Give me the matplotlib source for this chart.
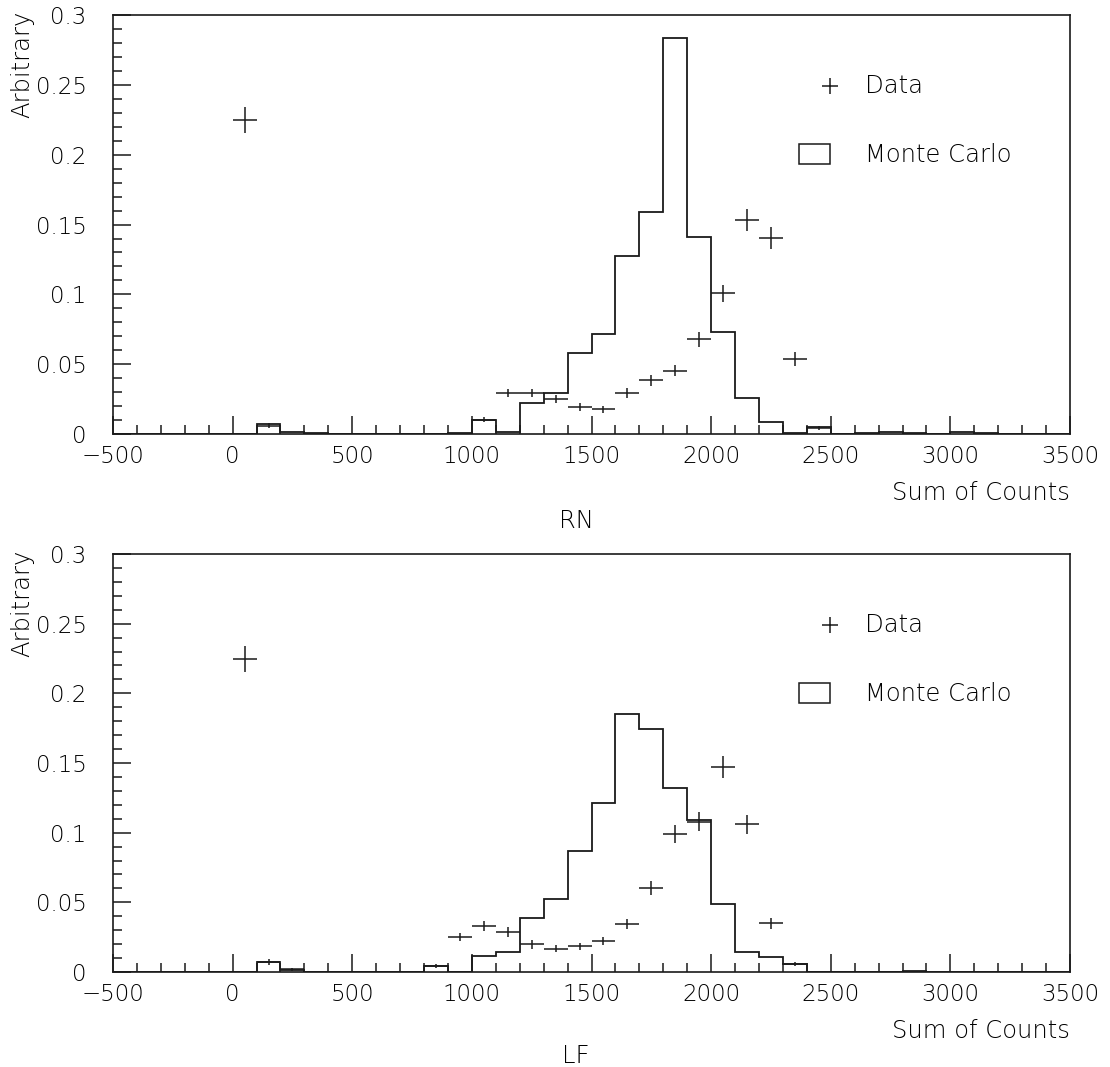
import matplotlib
matplotlib.use("Agg")
import matplotlib.pyplot as plt
import numpy as np
from matplotlib.patches import Rectangle
from matplotlib.ticker import MultipleLocator, FixedLocator

# 100-count bins from -500 to 3500
edges = np.arange(-500, 3501, 100)

# Monte Carlo histograms (40 bins)
mc_rn = [0, 0, 0, 0, 0, 0, 0.0069, 0.0012, 0.0008, 0,
         0, 0, 0, 0, 0.0008, 0.0103, 0.0012, 0.0224, 0.0291, 0.058,
         0.0714, 0.1277, 0.1592, 0.2838, 0.1408, 0.0733, 0.026, 0.0084, 0.001, 0.005,
         0, 0.0005, 0.0012, 0.0005, 0, 0.0012, 0.0005, 0, 0, 0]
mc_lf = [0, 0, 0, 0, 0, 0, 0.0073, 0.0015, 0, 0,
         0, 0, 0, 0.0045, 0, 0.0113, 0.0145, 0.039, 0.0525, 0.0868,
         0.121, 0.1855, 0.1743, 0.132, 0.1088, 0.0488, 0.0145, 0.0105, 0.0058, 0,
         0, 0, 0, 0.0008, 0, 0, 0, 0, 0, 0]

# measured data points (bin centre, value, error)
rn_x = [50, 150, 1050, 1150, 1250, 1350, 1450, 1550, 1650, 1750, 1850,
        1950, 2050, 2150, 2250, 2350, 2450]
rn_y = [0.2248, 0.006, 0.0103, 0.0296, 0.0296, 0.0253, 0.0193, 0.0177, 0.0291,
        0.0384, 0.0453, 0.068, 0.1007, 0.1535, 0.1401, 0.0537, 0.0045]
rn_err = [0.0095, 0.002, 0.002, 0.003, 0.003, 0.003, 0.0026, 0.0026, 0.0036,
          0.004, 0.004, 0.0054, 0.006, 0.0078, 0.0078, 0.005, 0.0015]

lf_x = [50, 150, 250, 850, 950, 1050, 1150, 1250, 1350, 1450, 1550, 1650,
        1750, 1850, 1950, 2050, 2150, 2250, 2350]
lf_y = [0.2245, 0.007, 0.002, 0.0045, 0.025, 0.033, 0.029, 0.0198, 0.0168,
        0.0185, 0.0223, 0.0343, 0.0605, 0.099, 0.108, 0.147, 0.106, 0.035, 0.006]
lf_err = [0.0095, 0.002, 0.001, 0.0015, 0.003, 0.0035, 0.0035, 0.003, 0.0025,
          0.0025, 0.003, 0.0035, 0.005, 0.0065, 0.007, 0.008, 0.007, 0.004, 0.0015]

ytick_vals = [0, 0.05, 0.1, 0.15, 0.2, 0.25, 0.3]
ytick_text = ["0", "0.05", "0.1", "0.15", "0.2", "0.25", "0.3"]
xtick_vals = [-500, 0, 500, 1000, 1500, 2000, 2500, 3000, 3500]

plt.rcParams['font.family'] = ['DejaVu Sans']
plt.rcParams['font.weight'] = 'light'
FS_TICK = 16.5
FS = 17.5
INK = '#1a1a1a'

fig = plt.figure(figsize=(11.10, 10.67), dpi=100)
ax_top = fig.add_axes([0.1018, 0.5932, 0.8622, 0.3927])
ax_bot = fig.add_axes([0.1018, 0.0890, 0.8622, 0.3918])


def draw_panel(ax, mc, dx, dy, derr, name, title_y):
    ax.stairs(mc, edges, color=INK, lw=1.3)
    ax.errorbar(dx, dy, xerr=50, yerr=derr, fmt='none', ecolor=INK,
                elinewidth=1.1, capsize=0)
    ax.set_xlim(-500, 3500)
    ax.set_ylim(0, 0.3)

    ax.xaxis.set_major_locator(FixedLocator(xtick_vals))
    ax.xaxis.set_minor_locator(MultipleLocator(100))
    ax.yaxis.set_major_locator(FixedLocator(ytick_vals))
    ax.set_yticklabels(ytick_text)
    ax.yaxis.set_minor_locator(MultipleLocator(0.01))
    ax.tick_params(which='both', direction='in', top=False, right=False,
                   color=INK, labelcolor='black', labelsize=FS_TICK)
    ax.tick_params(which='major', length=13, width=1.1)
    ax.tick_params(which='minor', length=6.5, width=1.1)
    ax.tick_params(axis='y', pad=19)
    ax.tick_params(axis='x', pad=8)
    for sp in ax.spines.values():
        sp.set_linewidth(1.2)
        sp.set_color(INK)

    # legend drawn by hand, PAW style
    ax.plot([0.749], [0.8305], marker='+', ms=12, mew=1.1, color=INK,
            transform=ax.transAxes)
    ax.text(0.786, 0.8305, "Data", transform=ax.transAxes, fontsize=FS,
            va='center', ha='left', color='black')
    ax.add_patch(Rectangle((0.717, 0.644), 0.032, 0.048, fill=False,
                           lw=1.1, ec=INK, transform=ax.transAxes))
    ax.text(0.786, 0.666, "Monte Carlo", transform=ax.transAxes, fontsize=FS,
            va='center', ha='left', color='black')

    ax.text(1.0, -0.14, "Sum of Counts", transform=ax.transAxes, fontsize=FS,
            ha='right', va='center', color='black')
    fig.text(0.519, title_y, name, fontsize=FS, ha='center', va='center',
             color='black')
    ax.text(-0.095, 1.01, "Arbitrary", transform=ax.transAxes, fontsize=FS,
            rotation=90, ha='center', va='top', color='black')


draw_panel(ax_top, mc_rn, rn_x, rn_y, rn_err, "RN", 1 - 521 / 1067)
draw_panel(ax_bot, mc_lf, lf_x, lf_y, lf_err, "LF", 1 - 1056 / 1067)

fig.savefig("out.png", dpi=100)
